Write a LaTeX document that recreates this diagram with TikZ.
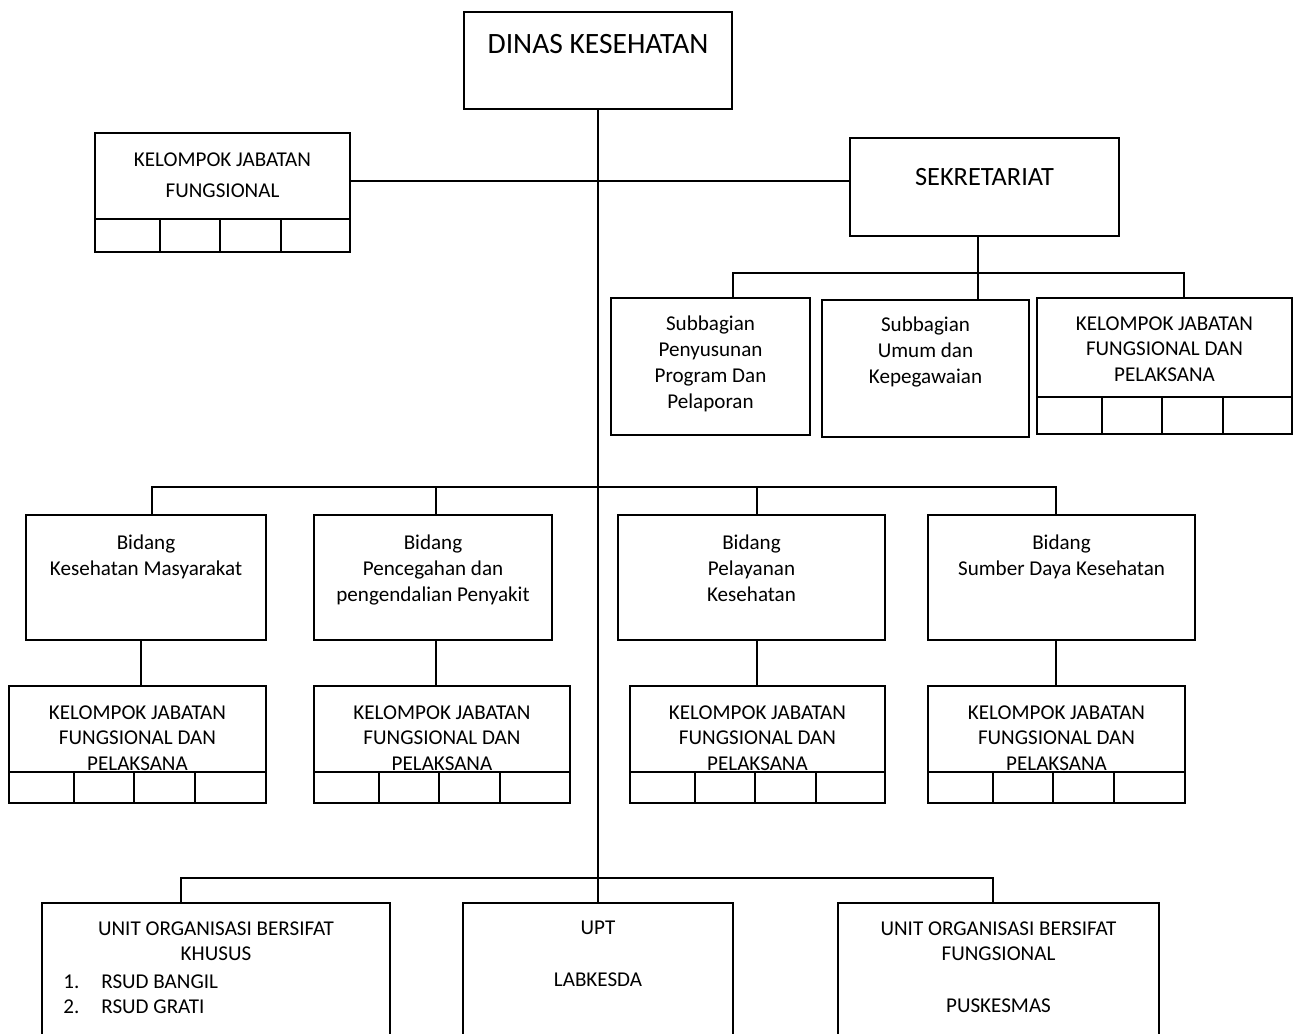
\documentclass[tikz,border=0pt]{standalone}
\usepackage{fontspec}
\setmainfont{Carlito}
\usetikzlibrary{positioning}
\tikzstyle{kotak} = [rectangle, draw=black, line width=1.1pt, outer sep=0pt, inner sep=0pt]
\tikzstyle{teks} = [align=center, inner sep=0pt, font=\fontsize{12}{14.7}\selectfont]
\tikzstyle{garis} = [line width=1pt]
\tikzstyle{sel} = [line width=0.8pt]

% petak kecil di bawah kotak kelompok jabatan
\newcommand{\petak}[2]{%
  \draw[sel] ([yshift=#2]#1.south west) -- ([yshift=#2]#1.south east);
  \foreach \dx in {1.30,2.50,3.72}
    \draw[sel] ([xshift=\dx cm]#1.south west) -- ++(0,#2);
}

\begin{document}
\begin{tikzpicture}
		\useasboundingbox (0,0) rectangle (25.98,-20.68);
		\clip (0,0) rectangle (25.98,-20.68);
		
		\node (dinas) [kotak, minimum width=5.36cm, minimum height=1.94cm] at (11.96,-1.21) {};
		\node (dinas-t) [teks, font=\fontsize{16.8}{20}\selectfont, below=0.43cm of dinas.north] {DINAS KESEHATAN};
		
		\node (kjf) [kotak, minimum width=5.10cm, minimum height=2.38cm] at (4.45,-3.85) {};
		\node (kjf-t) [teks, font=\fontsize{12}{18}\selectfont, below=0.38cm of kjf.north] {KELOMPOK JABATAN\\FUNGSIONAL};
		\petak{kjf}{0.66cm}
		
		\node (sek) [kotak, minimum width=5.38cm, minimum height=1.96cm] at (19.69,-3.74) {};
		\node (sek-t) [teks, font=\fontsize{15}{18}\selectfont, below=0.61cm of sek.north] {SEKRETARIAT};
		
		\node (sub1) [kotak, minimum width=3.98cm, minimum height=2.74cm] at (14.21,-7.33) {};
		\node (sub1-t) [teks, below=0.36cm of sub1.north] {Subbagian\\Penyusunan\\Program Dan\\Pelaporan};
		\node (sub2) [kotak, minimum width=4.14cm, minimum height=2.74cm] at (18.51,-7.37) {};
		\node (sub2-t) [teks, below=0.34cm of sub2.north] {Subbagian\\Umum dan\\Kepegawaian};
		\node (kjfs) [kotak, minimum width=5.10cm, minimum height=2.72cm] at (23.29,-7.32) {};
		\node (kjfs-t) [teks, below=0.36cm of kjfs.north] {KELOMPOK JABATAN\\FUNGSIONAL DAN\\PELAKSANA};
		\petak{kjfs}{0.74cm}
		
		\node (bid1) [kotak, minimum width=4.80cm, minimum height=2.50cm] at (2.92,-11.55) {};
		\node (bid1-t) [teks, below=0.40cm of bid1.north] {Bidang\\Kesehatan Masyarakat};
		\node (bid2) [kotak, minimum width=4.76cm, minimum height=2.50cm] at (8.66,-11.55) {};
		\node (bid2-t) [teks, below=0.40cm of bid2.north] {Bidang\\Pencegahan dan\\pengendalian Penyakit};
		\node (bid3) [kotak, minimum width=5.34cm, minimum height=2.50cm] at (15.03,-11.55) {};
		\node (bid3-t) [teks, below=0.40cm of bid3.north] {Bidang\\Pelayanan\\Kesehatan};
		\node (bid4) [kotak, minimum width=5.34cm, minimum height=2.50cm] at (21.23,-11.55) {};
		\node (bid4-t) [teks, below=0.40cm of bid4.north] {Bidang\\Sumber Daya Kesehatan};
		
		\node (k1) [kotak, minimum width=5.14cm, minimum height=2.34cm] at (2.75,-14.89) {};
		\node (k1-t) [teks, below=0.38cm of k1.north] {KELOMPOK JABATAN\\FUNGSIONAL DAN\\PELAKSANA};
		\petak{k1}{0.62cm}
		\node (k2) [kotak, minimum width=5.12cm, minimum height=2.34cm] at (8.84,-14.89) {};
		\node (k2-t) [teks, below=0.38cm of k2.north] {KELOMPOK JABATAN\\FUNGSIONAL DAN\\PELAKSANA};
		\petak{k2}{0.62cm}
		\node (k3) [kotak, minimum width=5.10cm, minimum height=2.34cm] at (15.15,-14.89) {};
		\node (k3-t) [teks, below=0.38cm of k3.north] {KELOMPOK JABATAN\\FUNGSIONAL DAN\\PELAKSANA};
		\petak{k3}{0.62cm}
		\node (k4) [kotak, minimum width=5.14cm, minimum height=2.34cm] at (21.13,-14.89) {};
		\node (k4-t) [teks, below=0.38cm of k4.north] {KELOMPOK JABATAN\\FUNGSIONAL DAN\\PELAKSANA};
		\petak{k4}{0.62cm}
		
		\node (u1) [kotak, minimum width=6.96cm, minimum height=3cm] at (4.32,-19.56) {};
		\node (u1-t) [teks, below=0.36cm of u1.north] {UNIT ORGANISASI BERSIFAT\\KHUSUS};
		\node (u1-l) [teks, align=left, anchor=north west] at (1.26,-19.48) {\makebox[0.76cm][l]{1.}RSUD BANGIL\\\makebox[0.76cm][l]{2.}RSUD GRATI};
		\node (u2) [kotak, minimum width=5.40cm, minimum height=3cm] at (11.96,-19.56) {};
		\node (u2-t) [teks, below=0.36cm of u2.north] {UPT\\[14.7pt]LABKESDA};
		\node (u3) [kotak, minimum width=6.42cm, minimum height=3cm] at (19.97,-19.56) {};
		\node (u3-t) [teks, below=0.36cm of u3.north] {UNIT ORGANISASI BERSIFAT\\FUNGSIONAL\\[14.7pt]PUSKESMAS};
		
		% titik belok garis
		\coordinate (j1) at (11.96,-3.62);
		\coordinate (j2) at (19.56,-5.46);
		\coordinate (s1) at (14.66,-5.46);
		\coordinate (s3) at (23.68,-5.46);
		\coordinate (m1) at (3.04,-9.74);
		\coordinate (m2) at (8.72,-9.74);
		\coordinate (m3) at (15.14,-9.74);
		\coordinate (m4) at (21.12,-9.74);
		\coordinate (v1) at (2.82,0);
		\coordinate (b1) at (3.62,-17.56);
		\coordinate (b3) at (19.86,-17.56);
		
		\draw [garis] (dinas.south) -- (u2.north);
		\draw [garis] (kjf.east |- j1) -- (sek.west |- j1);
		
		\draw [garis] (sek.south -| j2) -- (j2);
		\draw [garis] (sub1.north -| s1) -- (s1) -- (s3) -- (kjfs.north -| s3);
		\draw [garis] (j2) -- (sub2.north -| j2);
		
		\draw [garis] (bid1.north -| m1) -- (m1) -- (m4) -- (bid4.north -| m4);
		\draw [garis] (m2) -- (bid2.north -| m2);
		\draw [garis] (m3) -- (bid3.north -| m3);
		
		\draw [garis] (bid1.south -| v1) -- (k1.north -| v1);
		\draw [garis] (bid2.south -| m2) -- (k2.north -| m2);
		\draw [garis] (bid3.south -| m3) -- (k3.north -| m3);
		\draw [garis] (bid4.south -| m4) -- (k4.north -| m4);
		
		\draw [garis] (u1.north -| b1) -- (b1) -- (b3) -- (u3.north -| b3);
		
\end{tikzpicture}
\end{document}
